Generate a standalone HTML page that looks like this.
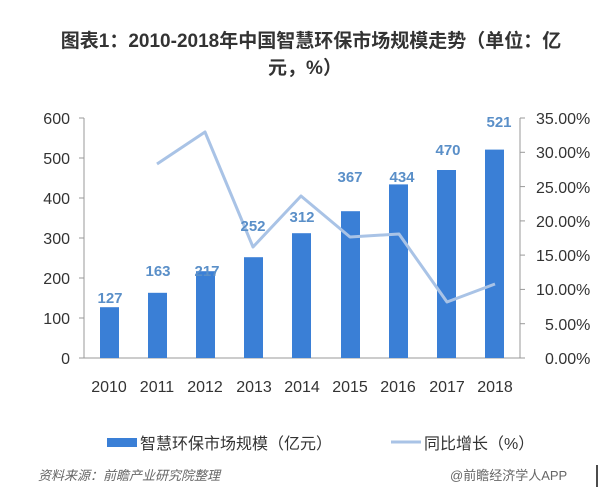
<!DOCTYPE html>
<html><head><meta charset="utf-8"><style>
body{margin:0;background:#fff;}
svg{display:block;font-family:"Liberation Sans","Noto Sans CJK SC",sans-serif;}
</style></head><body>
<svg width="600" height="492" viewBox="0 0 600 492">
<text x="311" y="47" text-anchor="middle" font-size="19" font-weight="bold" fill="#333">图表1：2010-2018年中国智慧环保市场规模走势（单位：亿</text>
<text x="305" y="74" text-anchor="middle" font-size="19" font-weight="bold" fill="#333">元，%）</text>
<g stroke="#999" stroke-width="1" fill="none">
<line x1="84" y1="118" x2="84" y2="358"/>
<line x1="520" y1="118" x2="520" y2="358"/>
<line x1="84" y1="358" x2="520" y2="358"/>
</g>
<g stroke="#999" stroke-width="1">
<line x1="79" y1="118" x2="84" y2="118"/><line x1="79" y1="158" x2="84" y2="158"/><line x1="79" y1="198" x2="84" y2="198"/><line x1="79" y1="238" x2="84" y2="238"/><line x1="79" y1="278" x2="84" y2="278"/><line x1="79" y1="318" x2="84" y2="318"/><line x1="79" y1="358" x2="84" y2="358"/>
<line x1="520" y1="118" x2="525" y2="118"/><line x1="520" y1="152.3" x2="525" y2="152.3"/><line x1="520" y1="186.6" x2="525" y2="186.6"/><line x1="520" y1="220.9" x2="525" y2="220.9"/><line x1="520" y1="255.1" x2="525" y2="255.1"/><line x1="520" y1="289.4" x2="525" y2="289.4"/><line x1="520" y1="323.7" x2="525" y2="323.7"/><line x1="520" y1="358" x2="525" y2="358"/>
</g>
<g font-size="16" fill="#333" text-anchor="end">
<text x="70" y="124">600</text><text x="70" y="164">500</text><text x="70" y="204">400</text><text x="70" y="244">300</text><text x="70" y="284">200</text><text x="70" y="324">100</text><text x="70" y="364">0</text>
</g>
<g font-size="16" fill="#333">
<text x="536" y="124">35.00%</text><text x="536" y="158">30.00%</text><text x="536" y="193">25.00%</text><text x="536" y="227">20.00%</text><text x="536" y="261">15.00%</text><text x="536" y="295">10.00%</text><text x="545" y="330">5.00%</text><text x="545" y="364">0.00%</text>
</g>
<g fill="#3a7fd6">
<rect x="100" y="307.2" width="19" height="50.8"/>
<rect x="148" y="292.8" width="19" height="65.2"/>
<rect x="196" y="271.2" width="19" height="86.8"/>
<rect x="244" y="257.2" width="19" height="100.8"/>
<rect x="292" y="233.2" width="19" height="124.8"/>
<rect x="341" y="211.2" width="19" height="146.8"/>
<rect x="389" y="184.4" width="19" height="173.6"/>
<rect x="437" y="170" width="19" height="188"/>
<rect x="485" y="149.6" width="19" height="208.4"/>
</g>
<polyline points="157,164 205,132 253,247 301,196 350,237 399,234 447,302 495,284" fill="none" stroke="#a9c3e6" stroke-width="3" stroke-linejoin="round"/>
<g font-size="15" font-weight="bold" fill="#5a8fc8" text-anchor="middle">
<text x="110" y="303">127</text><text x="158" y="276">163</text><text x="207" y="276">217</text><text x="253" y="231">252</text><text x="302" y="222">312</text><text x="350" y="182">367</text><text x="402" y="182">434</text><text x="448" y="155">470</text><text x="499" y="127">521</text>
</g>
<g font-size="16" fill="#333" text-anchor="middle">
<text x="109" y="392">2010</text><text x="157" y="392">2011</text><text x="205" y="392">2012</text><text x="254" y="392">2013</text><text x="302" y="392">2014</text><text x="350" y="392">2015</text><text x="398" y="392">2016</text><text x="447" y="392">2017</text><text x="495" y="392">2018</text>
</g>
<rect x="107" y="438" width="30" height="9" fill="#3a7fd6"/>
<text x="140" y="449" font-size="16" fill="#333">智慧环保市场规模（亿元）</text>
<line x1="391" y1="442" x2="421" y2="442" stroke="#a9c3e6" stroke-width="3"/>
<text x="424" y="449" font-size="16" fill="#333">同比增长（%）</text>
<text x="38" y="480" font-size="13" font-style="italic" fill="#666">资料来源：前瞻产业研究院整理</text>
<text x="450" y="480" font-size="13" fill="#666">@前瞻经济学人APP</text>
<line x1="597" y1="465" x2="597" y2="487" stroke="#111" stroke-width="1.5"/>
</svg>
</body></html>
